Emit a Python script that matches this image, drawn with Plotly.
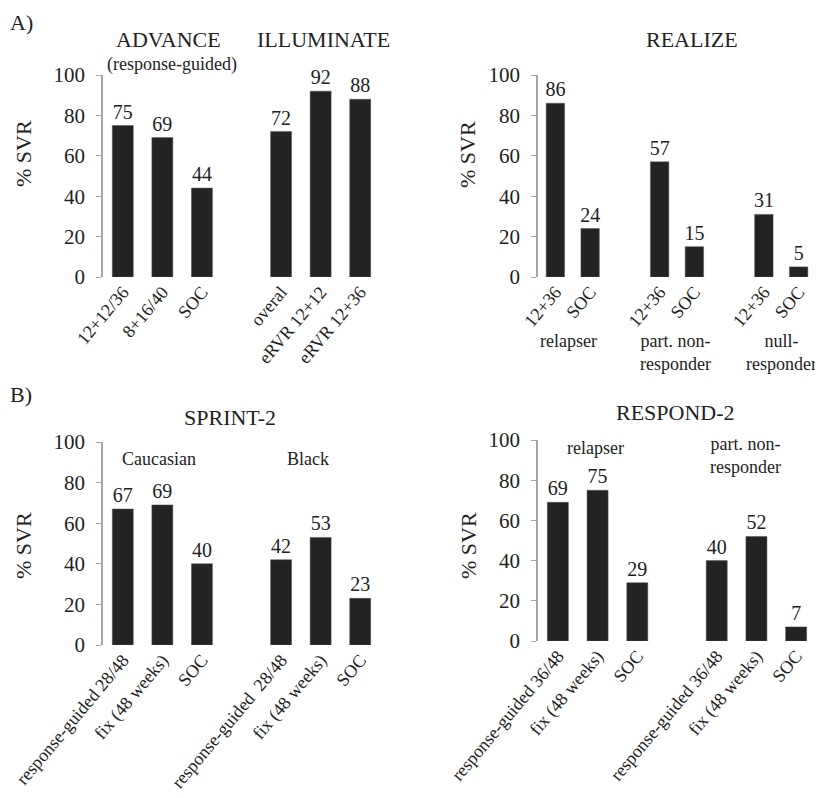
"""
Sustained virological response (% SVR) in the telaprevir / boceprevir
phase III trials, four small bar panels on one page.
"""

import plotly.graph_objects as go

# ==========================================================
# Data
# ==========================================================

advance_labels = ["12+12/36", "8+16/40", "SOC"]
advance_svr = [75, 69, 44]

illuminate_labels = ["overal", "eRVR 12+12", "eRVR 12+36"]
illuminate_svr = [72, 92, 88]

realize_labels = ["12+36", "SOC"]
realize_relapser = [86, 24]
realize_partial = [57, 15]
realize_null = [31, 5]
realize_groups = ["relapser", "part. non-<br>responder", "null-<br>responder"]

sprint_labels_caucasian = ["response-guided 28/48", "fix (48 weeks)", "SOC"]
sprint_labels_black = ["response-guided  28/48", "fix (48 weeks)", "SOC"]
sprint_caucasian = [67, 69, 40]
sprint_black = [42, 53, 23]
sprint_groups = ["Caucasian", "Black"]

respond_labels = ["response-guided 36/48", "fix (48 weeks)", "SOC"]
respond_relapser = [69, 75, 29]
respond_partial = [40, 52, 7]
respond_groups = ["relapser", "part. non-<br>responder"]

y_ticks = [0, 20, 40, 60, 80, 100]

# ==========================================================
# Style
# ==========================================================

FONT = "Liberation Serif, Times New Roman, serif"
INK = "#222222"
BAR = "#232323"
AXIS = "#a6a6a6"

# the page body adds an 8px margin, so the figure is a bit smaller
W, H, PAGE_PAD = 815, 790, 8


def px_x(v):
    return (v - PAGE_PAD) / W


def px_y(v):
    return 1 - (v - PAGE_PAD) / H


def layout_groups(groups):
    """Place groups of bars on a numeric axis with one empty slot between."""
    xs, values, labels = [], [], []
    offset = 0
    for names, vals in groups:
        xs += [offset + i for i in range(len(vals))]
        values += vals
        labels += names
        offset += len(vals) + 1
    return xs, values, labels


panels = [
    # (axis suffix, groups, x domain, y domain) -- domains from pixel edges
    ("", [(advance_labels, advance_svr), (illuminate_labels, illuminate_svr)],
     [px_x(103), px_x(380)], [px_y(277), px_y(75)]),
    ("2", [(realize_labels, realize_relapser), (realize_labels, realize_partial),
           (realize_labels, realize_null)],
     [px_x(538), px_x(816)], [px_y(277), px_y(75)]),
    ("3", [(sprint_labels_caucasian, sprint_caucasian), (sprint_labels_black, sprint_black)],
     [px_x(103), px_x(380)], [px_y(645), px_y(442)]),
    ("4", [(respond_labels, respond_relapser), (respond_labels, respond_partial)],
     [px_x(538), px_x(816)], [px_y(641), px_y(440)]),
]

fig = go.Figure()

for suffix, groups, xdom, ydom in panels:

    xs, values, labels = layout_groups(groups)

    fig.add_trace(
        go.Bar(
            x=xs,
            y=values,
            xaxis="x" + suffix,
            yaxis="y" + suffix,
            width=0.53,
            marker=dict(color=BAR, line=dict(color="#555555", width=0.5)),
            text=values,
            textposition="outside",
            constraintext="none",
            cliponaxis=False,
            textfont=dict(family=FONT, size=20, color=INK),
            showlegend=False,
            hoverinfo="skip",
        )
    )

    fig.update_layout({
        "xaxis" + suffix: dict(
            domain=xdom,
            anchor="y" + suffix,
            automargin=False,
            range=[-0.5, max(xs) + 0.5],
            tickmode="array",
            tickvals=xs,
            ticktext=labels,
            tickangle=-50,
            tickfont=dict(family=FONT, size=18, color=INK),
            showline=False,
            showgrid=False,
            zeroline=False,
            ticks="",
        ),
        "yaxis" + suffix: dict(
            domain=ydom,
            anchor="x" + suffix,
            automargin=False,
            range=[0, 100],
            tickmode="array",
            tickvals=y_ticks,
            tickfont=dict(family=FONT, size=21, color=INK),
            ticklabelstandoff=7,
            showline=True,
            linecolor=AXIS,
            linewidth=1.5,
            ticks="outside",
            ticklen=5,
            tickcolor=AXIS,
            showgrid=False,
            zeroline=False,
        ),
    })

# ==========================================================
# Annotations
# ==========================================================

annotations = []


def note(text, x, y, size, xanchor="center", yanchor="middle", angle=0):
    annotations.append(dict(
        text=text, x=px_x(x) if x is not None else 0, y=y,
        xref="paper", yref="paper",
        xanchor=xanchor, yanchor=yanchor, showarrow=False, textangle=angle,
        font=dict(family=FONT, size=size, color=INK),
    ))


# panel letters
note("A)", None, 1, 22, xanchor="left", yanchor="top")
note("B)", None, px_y(395), 22, xanchor="left")

# trial titles
note("ADVANCE", 168, px_y(40), 22)
note("(response-guided)", 172, px_y(65), 18)
note("ILLUMINATE", 323, px_y(40), 22)
note("REALIZE", 692, px_y(40), 22)
note("SPRINT-2", 230, px_y(417), 22)
note("RESPOND-2", 675, px_y(413), 22)

# y axis titles
for x, y in [(23, 154), (467, 155), (23, 546), (468, 545)]:
    note("% SVR", x, px_y(y), 22, angle=-90)

# REALIZE patient groups under the axis
for name, x in zip(realize_groups, [568, 675, 781]):
    note(name, x, px_y(329), 18, yanchor="top")

# SPRINT-2 and RESPOND-2 groups inside the plot
for name, x in zip(sprint_groups, [159, 308]):
    note(name, x, px_y(459), 18)

note(respond_groups[0], 595, px_y(448), 18)
note(respond_groups[1], 745, px_y(432), 18, yanchor="top")

fig.update_layout(
    width=W,
    height=H,
    margin=dict(l=0, r=0, t=0, b=0),
    paper_bgcolor="white",
    plot_bgcolor="white",
    annotations=annotations,
)

fig.write_html("out.html")
